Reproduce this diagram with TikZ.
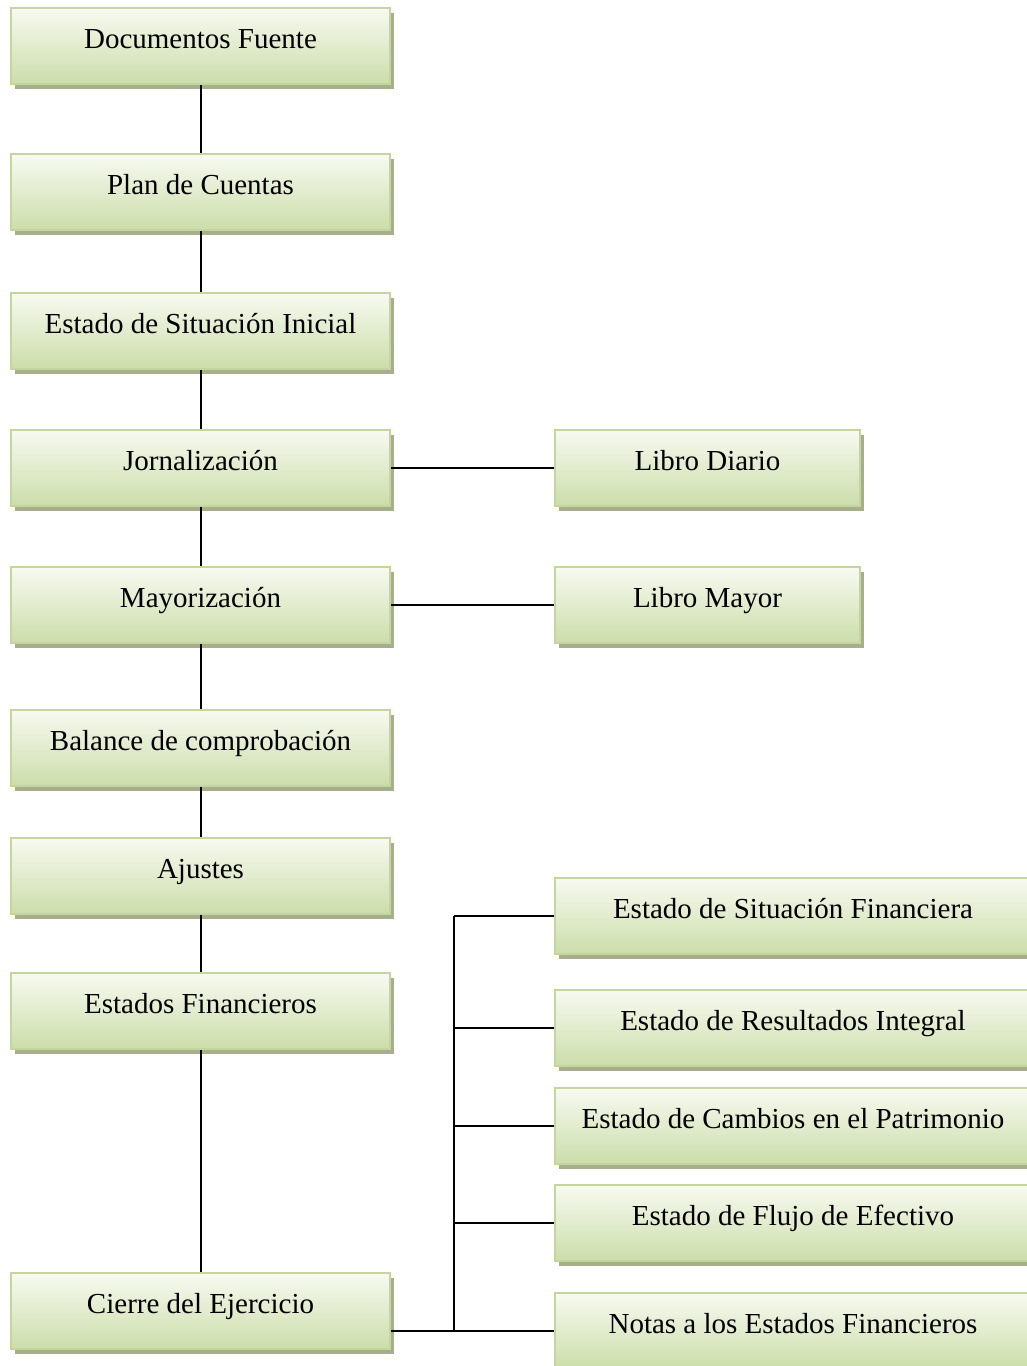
\documentclass[tikz,border=0pt]{standalone}
\usepackage{fontspec}
\setmainfont{Liberation Serif}
\usetikzlibrary{shadows}

\definecolor{verdeborde}{RGB}{196,214,158}
\definecolor{verdeclaro}{RGB}{247,250,241}
\definecolor{verdeoscuro}{RGB}{204,221,170}
\definecolor{sombra}{RGB}{166,174,140}

\begin{document}
\begin{tikzpicture}[x=1pt,y=-1pt,
  caja/.style={draw=verdeborde,line width=1.5pt,top color=verdeclaro,bottom color=verdeoscuro,
    drop shadow={shadow xshift=3.5pt,shadow yshift=-4.5pt,fill=sombra,opacity=1},
    minimum height=76pt,inner sep=0pt,text height=20pt,text depth=16pt,
    font=\fontsize{29}{34}\selectfont},
  paso/.style={caja,minimum width=379pt},
  libro/.style={caja,minimum width=305pt},
  estado/.style={caja,minimum width=476pt},
  linea/.style={line width=2pt}]
\useasboundingbox (0,0) rectangle (1027,1366);
% pasos del ciclo
\node[paso] (fuente) at (200.5,46) {Documentos Fuente};
\node[paso] (plan) at (200.5,192) {Plan de Cuentas};
\node[paso] (inicial) at (200.5,331) {Estado de Situación Inicial};
\node[paso] (jornal) at (200.5,468) {Jornalización};
\node[paso] (mayoriz) at (200.5,605) {Mayorización};
\node[paso] (balance) at (200.5,748) {Balance de comprobación};
\node[paso] (ajustes) at (200.5,876) {Ajustes};
\node[paso] (estados) at (200.5,1011) {Estados Financieros};
\node[paso] (cierre) at (200.5,1311) {Cierre del Ejercicio};
% libros
\node[libro] (diario) at (707.5,468) {Libro Diario};
\node[libro] (mayor) at (707.5,605) {Libro Mayor};
% estados
\node[estado] (situacion) at (793,916) {Estado de Situación Financiera};
\node[estado] (resultados) at (793,1028) {Estado de Resultados Integral};
\node[estado] (cambios) at (793,1126) {Estado de Cambios en el Patrimonio};
\node[estado] (flujo) at (793,1223) {Estado de Flujo de Efectivo};
\node[estado] (notas) at (793,1331) {Notas a los Estados Financieros};
% conexiones
\foreach \a/\b in {fuente/plan,plan/inicial,inicial/jornal,jornal/mayoriz,
    mayoriz/balance,balance/ajustes,ajustes/estados,estados/cierre}
  \draw[linea] (\a.south) -- (\b.north);
\draw[linea] (jornal.east) -- (diario.west);
\draw[linea] (mayoriz.east) -- (mayor.west);
\coordinate (bus) at (454,916);
\draw[linea] (bus |- situacion.west) -- (bus |- notas.west);
\foreach \n in {situacion,resultados,cambios,flujo,notas}
  \draw[linea] (bus |- \n.west) -- (\n.west);
\draw[linea] (cierre.east |- notas.west) -- (bus |- notas.west);
\end{tikzpicture}
\end{document}
